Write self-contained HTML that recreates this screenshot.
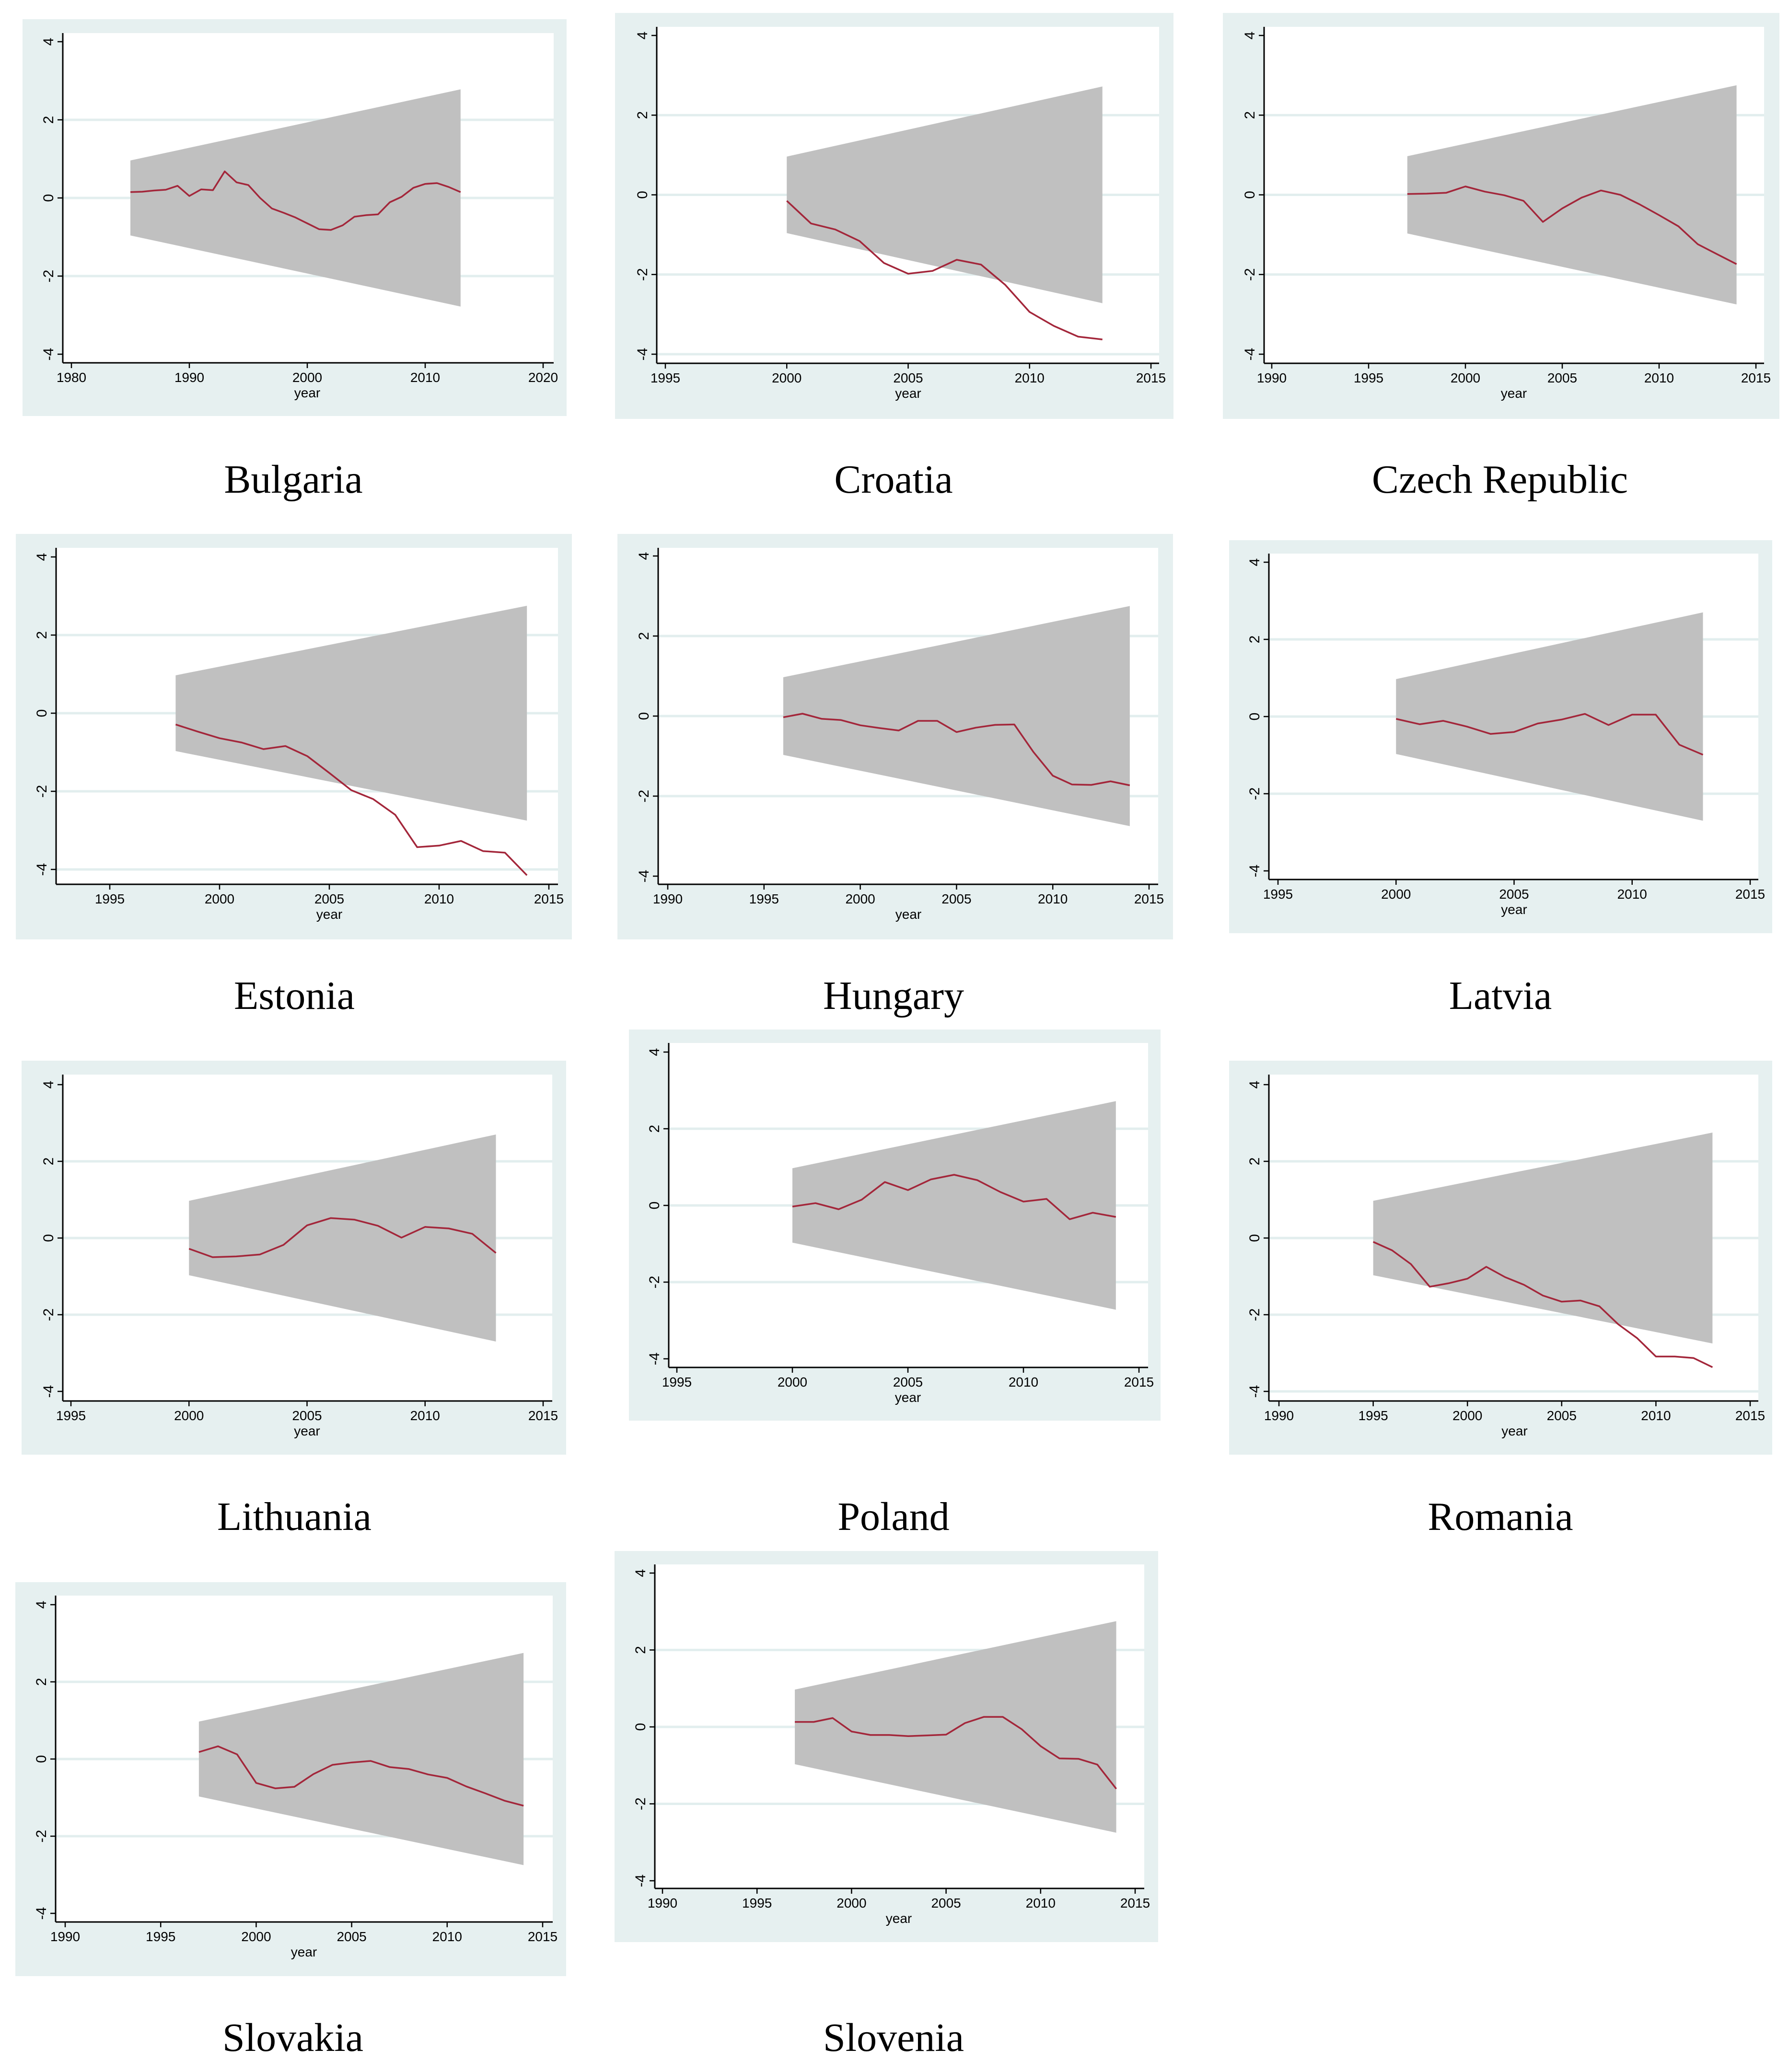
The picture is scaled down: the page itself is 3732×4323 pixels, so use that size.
<!DOCTYPE html>
<html><head><meta charset="utf-8">
<style>
html,body{margin:0;padding:0;background:#fff;}
svg{display:block;}
</style></head>
<body>
<svg id="fig" width="3732" height="4323" viewBox="0 0 3732 4323" xmlns="http://www.w3.org/2000/svg"></svg>
<script>
// ---- data ----
const countries = ["Bulgaria","Croatia","Czech Republic","Estonia","Hungary","Latvia","Lithuania","Poland","Romania","Slovakia","Slovenia"];
const startYears = [1985,2000,1997,1998,1996,2000,2000,2000,1995,1997,1997];
const bandStart = [0.96,0.96,0.97,0.97,0.97,0.97,0.97,0.97,0.97,0.97,0.97];
const bandEnd = [2.78,2.72,2.75,2.75,2.75,2.70,2.70,2.72,2.75,2.75,2.75];
const bulgaria = [0.15,0.16,0.19,0.21,0.31,0.05,0.22,0.20,0.68,0.40,0.33,0.0,-0.27,-0.38,-0.50,-0.65,-0.80,-0.82,-0.70,-0.48,-0.44,-0.42,-0.11,0.03,0.26,0.36,0.38,0.28,0.15];
const croatia = [-0.15,-0.72,-0.87,-1.16,-1.71,-1.98,-1.91,-1.63,-1.75,-2.26,-2.94,-3.29,-3.56,-3.63];
const czech = [0.02,0.03,0.05,0.21,0.08,-0.01,-0.15,-0.68,-0.34,-0.07,0.11,0.0,-0.24,-0.51,-0.79,-1.24,-1.49,-1.74];
const estonia = [-0.29,-0.47,-0.64,-0.75,-0.92,-0.84,-1.10,-1.53,-1.97,-2.20,-2.60,-3.43,-3.39,-3.27,-3.53,-3.57,-4.15];
const hungary = [-0.03,0.06,-0.07,-0.10,-0.23,-0.30,-0.36,-0.12,-0.12,-0.40,-0.29,-0.22,-0.21,-0.90,-1.49,-1.71,-1.72,-1.63,-1.73];
const latvia = [-0.06,-0.20,-0.11,-0.26,-0.45,-0.40,-0.18,-0.08,0.07,-0.22,0.05,0.05,-0.73,-0.99];
const lithuania = [-0.28,-0.50,-0.48,-0.43,-0.18,0.33,0.52,0.48,0.32,0.01,0.29,0.25,0.11,-0.39];
const poland = [-0.03,0.06,-0.10,0.15,0.61,0.40,0.68,0.80,0.66,0.35,0.10,0.17,-0.36,-0.19,-0.30];
const romania = [-0.10,-0.32,-0.68,-1.27,-1.18,-1.06,-0.75,-1.02,-1.22,-1.50,-1.66,-1.63,-1.78,-2.25,-2.61,-3.09,-3.09,-3.13,-3.37];
const slovakia = [0.18,0.33,0.12,-0.62,-0.76,-0.72,-0.39,-0.15,-0.09,-0.05,-0.21,-0.26,-0.40,-0.49,-0.71,-0.89,-1.08,-1.21];
const slovenia = [0.13,0.13,0.23,-0.12,-0.21,-0.21,-0.24,-0.22,-0.20,0.10,0.26,0.26,-0.06,-0.50,-0.82,-0.83,-0.98,-1.61];
const series = [bulgaria,croatia,czech,estonia,hungary,latvia,lithuania,poland,romania,slovakia,slovenia];
const yTicks = [-4,-2,0,2,4];
const xTickFirst = [1980,1995,1990,1995,1990,1995,1995,1995,1990,1990,1990];
const xTickLast = [2020,2015,2015,2015,2015,2015,2015,2015,2015,2015,2015];
const xTickStep = [10,5,5,5,5,5,5,5,5,5,5];

// ---- layout (pixels) ----
const layout = [
 {bg:[47,40,1182,868], plot:[131,69,1155,757], xt:[149,1133], yt:[739,87], title:[612,998]},
 {bg:[1283,27,2448,874], plot:[1370,56,2418,758], xt:[1388,2401], yt:[739,74], title:[1864,998]},
 {bg:[2551,27,3712,874], plot:[2637,56,3680,758], xt:[2653,3663], yt:[739,74], title:[3129,998]},
 {bg:[33,1114,1193,1960], plot:[117,1143,1164,1845], xt:[229,1145], yt:[1814,1162], title:[614,2075]},
 {bg:[1288,1114,2447,1960], plot:[1373,1143,2416,1845], xt:[1393,2397], yt:[1828,1160], title:[1864,2075]},
 {bg:[2564,1127,3697,1947], plot:[2647,1155,3668,1835], xt:[2666,3651], yt:[1817,1173], title:[3130,2075]},
 {bg:[45,2213,1181,3035], plot:[131,2242,1152,2923], xt:[148,1133], yt:[2903,2263], title:[614,3162]},
 {bg:[1312,2148,2421,2964], plot:[1395,2176,2395,2853], xt:[1412,2376], yt:[2835,2195], title:[1864,3162]},
 {bg:[2564,2213,3697,3035], plot:[2647,2242,3668,2923], xt:[2668,3651], yt:[2903,2263], title:[3130,3162]},
 {bg:[32,3301,1181,4123], plot:[116,3329,1153,4010], xt:[136,1132], yt:[3992,3348], title:[611,4249]},
 {bg:[1282,3236,2416,4052], plot:[1366,3264,2387,3940], xt:[1382,2368], yt:[3924,3282], title:[1864,4249]}
];
const gridM4 = [false,true,false,true,false,false,false,false,true,false,false];

const NS = "http://www.w3.org/2000/svg";
const svg = document.getElementById("fig");
function mk(tag, attrs, parent){
  const e = document.createElementNS(NS, tag);
  for (const k in attrs) e.setAttribute(k, attrs[k]);
  (parent||svg).appendChild(e);
  return e;
}
function slug(s){return s.toLowerCase().replace(/\s+/g,'-');}

countries.forEach((name, i) => {
  const L = layout[i];
  const g = mk("g", {});
  
  
  const xScale = yr => L.xt[0] + (yr - xTickFirst[i]) * (L.xt[1]-L.xt[0]) / (xTickLast[i]-xTickFirst[i]);
  const yScale = v => L.yt[0] + (v + 4) * (L.yt[1]-L.yt[0]) / 8;
  const [bx1,by1,bx2,by2] = L.bg, [px1,py1,px2,py2] = L.plot;

  const bg = mk("rect", {x:bx1,y:by1,width:bx2-bx1,height:by2-by1,fill:"#e6f0f0"}, g);
  
  
  const pa = mk("rect", {x:px1,y:py1,width:px2-px1,height:py2-py1,fill:"#ffffff"}, g);
  
  

  yTicks.forEach(t => {
    if (t === 4) return;
    if (t === -4 && !gridM4[i]) return;
    const gl = mk("line", {x1:px1,x2:px2,y1:yScale(t),y2:yScale(t),stroke:"#e2eeee","stroke-width":5}, g);
    
    
  });

  const s0 = startYears[i], n = series[i].length, s1 = s0 + n - 1;
  const band = mk("polygon", {points:
    `${xScale(s0)},${yScale(bandStart[i])} ${xScale(s1)},${yScale(bandEnd[i])} ${xScale(s1)},${yScale(-bandEnd[i])} ${xScale(s0)},${yScale(-bandStart[i])}`,
    fill:"#c0c0c0"}, g);
  
  

  const pts = series[i].map((v, k) => `${xScale(s0+k).toFixed(1)},${yScale(v).toFixed(1)}`).join(" ");
  const ln = mk("polyline", {points:pts, fill:"none", stroke:"#a3263a", "stroke-width":3.5, "stroke-linejoin":"round"}, g);
  
  

  const ya = mk("line", {x1:px1,x2:px1,y1:py1,y2:py2,stroke:"#000","stroke-width":3}, g);
  
  
  const xa = mk("line", {x1:px1,x2:px2,y1:py2,y2:py2,stroke:"#000","stroke-width":3}, g);
  
  

  yTicks.forEach(t => {
    const y = yScale(t);
    mk("line", {x1:px1-11,x2:px1,y1:y,y2:y,stroke:"#000","stroke-width":2.5}, g);
    const tx = mk("text", {x:0,y:0,"font-family":"Liberation Sans, sans-serif","font-size":30,"text-anchor":"middle",
      transform:`translate(${px1-20},${y}) rotate(-90)`}, g);
    
    
    tx.textContent = String(t);
  });
  for (let yr = xTickFirst[i]; yr <= xTickLast[i]; yr += xTickStep[i]) {
    const x = xScale(yr);
    mk("line", {x1:x,x2:x,y1:py2,y2:py2+11,stroke:"#000","stroke-width":2.5}, g);
    const tx = mk("text", {x:x,y:py2+40,"font-family":"Liberation Sans, sans-serif","font-size":28,"text-anchor":"middle"}, g);
    
    
    tx.textContent = String(yr);
  }
  const xl = mk("text", {x:(xScale(xTickFirst[i])+xScale(xTickLast[i]))/2, y:py2+72,"font-family":"Liberation Sans, sans-serif","font-size":28,"text-anchor":"middle"}, g);
  
  
  xl.textContent = "year";

  const tt = mk("text", {x:L.title[0], y:L.title[1]+30,"font-family":"Liberation Serif, serif","font-size":84,"text-anchor":"middle",fill:"#000"}, g);
  
  
  tt.textContent = name;
});
</script>
</body></html>
